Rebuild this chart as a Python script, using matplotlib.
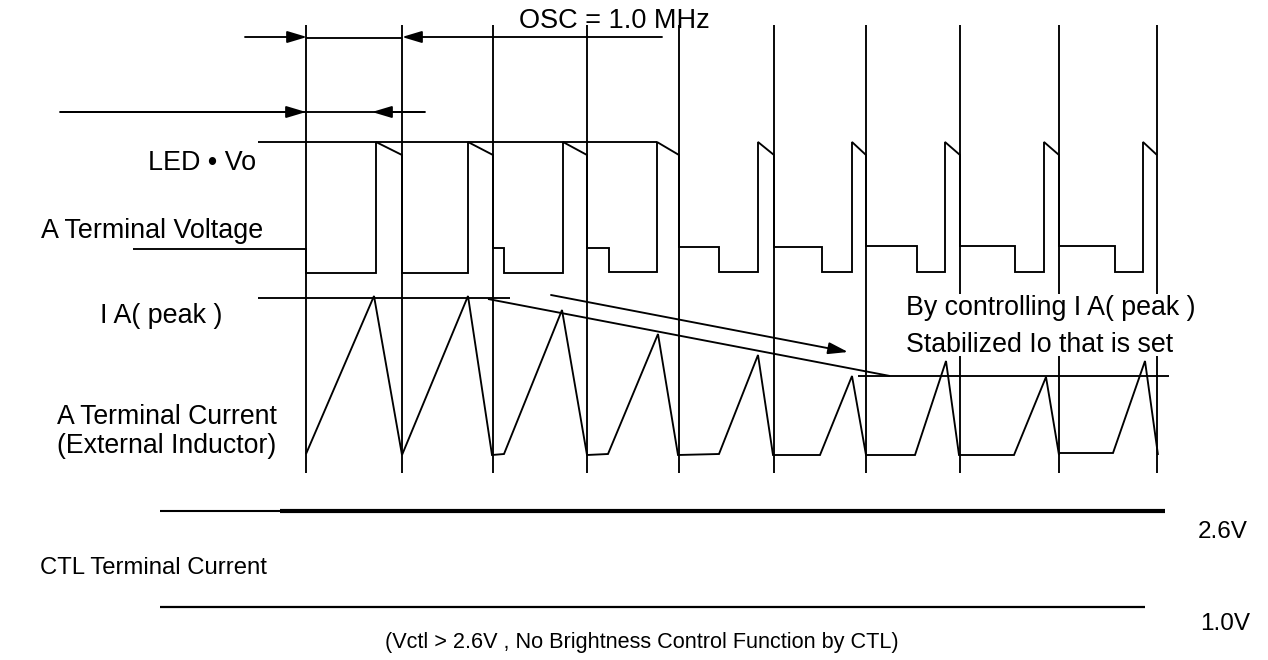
import matplotlib
matplotlib.use("Agg")
import matplotlib.pyplot as plt

plt.rcParams['font.family'] = ['Liberation Sans', 'DejaVu Sans']

# ---- data (diagram coordinates in pixel space, y downwards) ----
clock_x = [306, 402, 493, 587, 679, 774, 866, 960, 1059, 1157]
clock_top = 25
clock_bottom = 473
clock_gap_x = [960, 1059, 1157]
clock_gap = (294, 356)

led_vo_x = [258, 657]
led_vo_y = [142, 142]

volt_x = [133, 306, 306, 376, 376, 402, 402, 468, 468, 493, 493, 504, 504, 563, 563, 587,
          587, 609, 609, 657, 657, 679, 679, 719, 719, 758, 758, 774, 774, 822, 822, 852,
          852, 866, 866, 917, 917, 945, 945, 960, 960, 1015, 1015, 1044, 1044, 1059, 1059,
          1115, 1115, 1143, 1143, 1157]
volt_y = [249, 249, 273, 273, 142, 155, 273, 273, 142, 155, 248, 248, 273, 273, 142, 155,
          248, 248, 272, 272, 142, 155, 247, 247, 272, 272, 142, 155, 247, 247, 272, 272,
          142, 155, 246, 246, 272, 272, 142, 155, 246, 246, 272, 272, 142, 155, 246,
          246, 272, 272, 142, 155]

peak_x = [258, 510]
peak_y = [298, 298]

curr_x = [306, 374, 402, 468, 492, 504, 562, 587, 608, 658, 678, 719, 758, 773, 820, 852,
          866, 915, 946, 959, 1014, 1046, 1059, 1059, 1113, 1145, 1158]
curr_y = [454, 296, 455, 296, 455, 454, 310, 455, 454, 334, 455, 454, 355, 455, 455, 376,
          455, 455, 361, 455, 455, 377, 455, 453, 453, 361, 455]

slope_x = [488, 890]
slope_y = [299, 376]
io_x = [858, 1169]
io_y = [376, 376]

osc_lines = [([306, 402], [38, 38]), ([60, 425], [112, 112])]

arrow_tail = [(245, 37), (662, 37), (60, 112), (425, 112), (551, 295)]
arrow_head = [(307, 37), (402, 37), (306, 112), (372, 112), (848, 352)]

ctl_thin_x = [160, 282]
ctl_thick_x = [280, 1165]
ctl_top_y = 511
ctl_low_x = [160, 1145]
ctl_low_y = 607

labels = [
    ("OSC = 1.0 MHz", 519, 28, 19.5),
    ("LED \u2022 Vo", 148, 170, 19.4),
    ("A Terminal Voltage", 41, 238, 19.4),
    ("I A( peak )", 100, 323, 19.4),
    ("A Terminal Current", 57, 424, 19.2),
    ("(External Inductor)", 57, 453, 19.2),
    ("By controlling I A( peak )", 906, 315, 19.3),
    ("Stabilized Io that is set", 906, 352, 19.3),
    ("CTL Terminal Current", 40, 574, 17.2),
    ("2.6V", 1198, 538, 17.5),
    ("1.0V", 1200, 630, 17.5),
    ("(Vctl > 2.6V , No Brightness Control Function by CTL)", 385, 648, 15.6),
]

# ---- drawing ----
fig = plt.figure(figsize=(12.68, 6.6), dpi=100)
ax = fig.add_axes([0, 0, 1, 1])
ax.set_xlim(0, 1268)
ax.set_ylim(660, 0)
ax.axis('off')

lw = 1.35
kw = dict(color='black', lw=lw, solid_joinstyle='miter', solid_capstyle='butt')

for x in clock_x:
    if x in clock_gap_x:
        ax.plot([x, x], [clock_top, clock_gap[0]], **kw)
        ax.plot([x, x], [clock_gap[1], clock_bottom], **kw)
    else:
        ax.plot([x, x], [clock_top, clock_bottom], **kw)

ax.plot(led_vo_x, led_vo_y, **kw)
ax.plot(volt_x, volt_y, **kw)
ax.plot(peak_x, peak_y, **kw)
ax.plot(curr_x, curr_y, **kw)
ax.plot(slope_x, slope_y, **kw)
ax.plot(io_x, io_y, **kw)
for xs, ys in osc_lines:
    ax.plot(xs, ys, **kw)

for (tx, ty), (hx, hy) in zip(arrow_tail, arrow_head):
    ax.annotate("", xy=(hx, hy), xytext=(tx, ty),
                arrowprops=dict(arrowstyle='-|>,head_length=1.0,head_width=0.3',
                                mutation_scale=12, color='black', lw=lw,
                                shrinkA=0, shrinkB=0))

ax.plot(ctl_thin_x, [ctl_top_y, ctl_top_y], color='black', lw=1.5, solid_capstyle='butt')
ax.plot(ctl_thick_x, [ctl_top_y, ctl_top_y], color='black', lw=3.0, solid_capstyle='butt')
ax.plot(ctl_low_x, [ctl_low_y, ctl_low_y], color='black', lw=1.6, solid_capstyle='butt')

for txt, x, y, fs in labels:
    ax.text(x, y, txt, fontsize=fs, ha='left', va='baseline', color='black')

fig.savefig("out.png", dpi=100, facecolor='white')
